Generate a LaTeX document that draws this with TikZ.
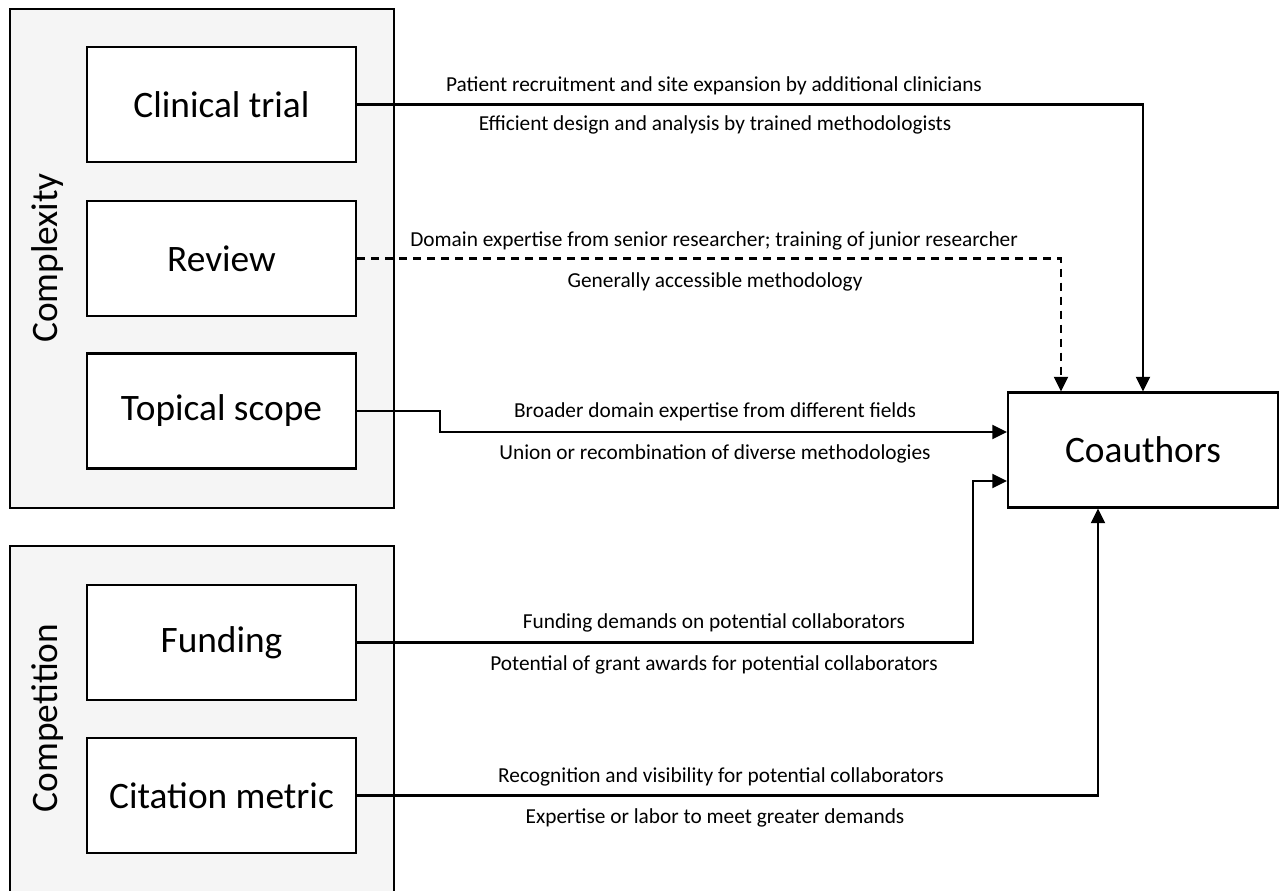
\documentclass[tikz,border=0pt]{standalone}
\usepackage{fontspec}
\setmainfont{Carlito}
\usetikzlibrary{arrows.meta}
\begin{document}
\begin{tikzpicture}[x=0.75pt,y=-0.75pt,
  groupbox/.style={draw, line width=1.6pt, fill=black!4, inner sep=0},
  item/.style={draw, line width=1.6pt, fill=white, minimum width=201.75pt, minimum height=86.25pt, inner sep=0, font=\fontsize{28}{33}\selectfont},
  side/.style={rotate=90, font=\fontsize{28}{33}\selectfont},
  lbl/.style={font=\fontsize{16}{19}\selectfont, inner sep=0},
  conn/.style={line width=1.6pt, -{Triangle[length=11pt,width=10.5pt]}}]
\useasboundingbox (0,0) rectangle (1280,890);
% groups
\node[groupbox, minimum width=288pt, minimum height=374.25pt] (gx) at (202,258.5) {};
\node[groupbox, minimum width=288pt, minimum height=265.5pt] (gc) at (202,723) {};
\node[side] (tx) at (48,258) {Complexity};
\node[side] (tc) at (48,718) {Competition};
% items
\node[item] (ct) at (221.5,104.5) {Clinical trial};
\node[item] (rv) at (221.5,258.5) {Review};
\node[item] (ts) at (221.5,411) {Topical scope};
\node[item] (fu) at (221.5,642.5) {Funding};
\node[item] (cm) at (221.5,795.5) {Citation metric};
\node[item, minimum width=202.5pt] (co) at (1143,450) {Coauthors};
% connectors
\draw[conn] (ct.east) -| (co.north);
\draw[conn, dash pattern=on 6pt off 4.5pt] (rv.east) -| ([xshift=-61.5pt]co.north);
\draw[conn] (ts.east) -- (440,411) |- ([yshift=13.5pt]co.west);
\draw[conn] (fu.east) -| (973,481) -- ([yshift=-23.25pt]co.west);
\draw[conn] (cm.east) -| ([xshift=-33.75pt]co.south);
% labels
\node[lbl] (l1a) at (714,86) {Patient recruitment and site expansion by additional clinicians};
\node[lbl] (l1b) at (715,125) {Efficient design and analysis by trained methodologists};
\node[lbl] (l2a) at (714,241) {Domain expertise from senior researcher; training of junior researcher};
\node[lbl] (l2b) at (715,282) {Generally accessible methodology};
\node[lbl] (l3a) at (715,412) {Broader domain expertise from different fields};
\node[lbl] (l3b) at (715,454) {Union or recombination of diverse methodologies};
\node[lbl] (l4a) at (714,623) {Funding demands on potential collaborators};
\node[lbl] (l4b) at (714,665) {Potential of grant awards for potential collaborators};
\node[lbl] (l5a) at (721,777) {Recognition and visibility for potential collaborators};
\node[lbl] (l5b) at (715,818) {Expertise or labor to meet greater demands};
\end{tikzpicture}
\end{document}
